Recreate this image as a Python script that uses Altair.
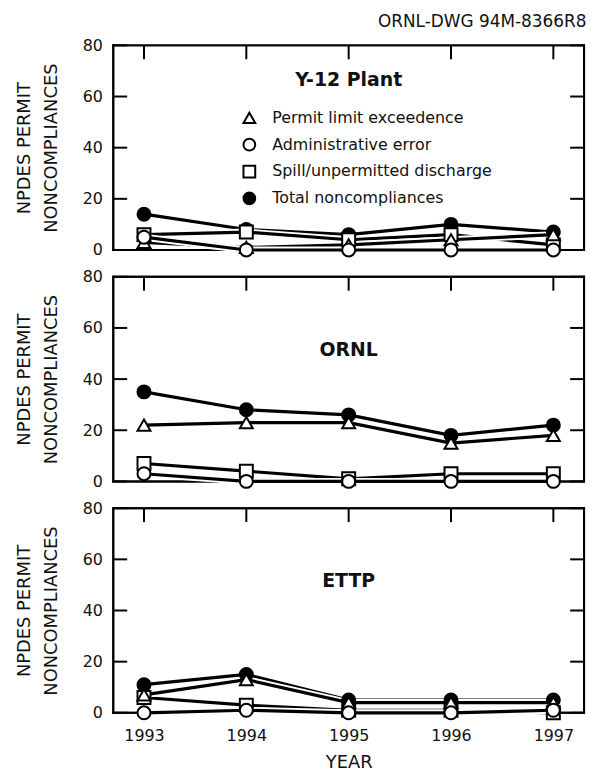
import altair as alt
import pandas as pd

years = [1993, 1994, 1995, 1996, 1997]
sites = ["Y-12 Plant", "ORNL", "ETTP"]
series_names = ["Permit limit exceedence", "Administrative error",
                "Spill/unpermitted discharge", "Total noncompliances"]
y_ticks = [0, 20, 40, 60, 80]

y12_permit = [3, 1, 2, 4, 6]
y12_admin = [5, 0, 0, 0, 0]
y12_spill = [6, 7, 4, 6, 2]
y12_total = [14, 8, 6, 10, 7]

ornl_permit = [22, 23, 23, 15, 18]
ornl_admin = [3, 0, 0, 0, 0]
ornl_spill = [7, 4, 1, 3, 3]
ornl_total = [35, 28, 26, 18, 22]

ettp_permit = [7, 13, 4, 4, 4]
ettp_admin = [0, 1, 0, 0, 1]
ettp_spill = [6, 3, 1, 1, 0]
ettp_total = [11, 15, 5, 5, 5]

site_data = {
    "Y-12 Plant": [y12_permit, y12_admin, y12_spill, y12_total],
    "ORNL": [ornl_permit, ornl_admin, ornl_spill, ornl_total],
    "ETTP": [ettp_permit, ettp_admin, ettp_spill, ettp_total],
}

# drawing order (first drawn at bottom)
draw_order = [series_names[3], series_names[2], series_names[0], series_names[1]]

rows = []
for site in sites:
    for s in draw_order:
        vals = site_data[site][series_names.index(s)]
        for yr, v in zip(years, vals):
            rows.append({"site": site, "series": s, "year": yr, "value": v})
df = pd.DataFrame(rows)
year_df = pd.DataFrame({"year": years})
ytick_df = pd.DataFrame({"tick": y_ticks})

W, H = 474, 206
FONT = "DejaVu Sans"
TXT = "#111111"
TICK = 14

label_y = {"Y-12 Plant": 35, "ORNL": 74, "ETTP": 73}


def panel(site, show_x, show_legend):
    d = df[df["site"] == site]
    xaxis = alt.Axis(values=years, format="d", ticks=False, domain=False, grid=False,
                     labelFontSize=16, labelPadding=15, title="YEAR",
                     titleFontSize=18, titleFontWeight="normal", titlePadding=10) if show_x else None
    yaxis = alt.Axis(values=y_ticks, ticks=False, domain=False, grid=False,
                     labelFontSize=16, labelPadding=11,
                     title=["NPDES PERMIT", "NONCOMPLIANCES"], titleFontSize=18,
                     titleFontWeight="normal", titlePadding=22, titleLineHeight=27)
    xs = alt.Scale(domain=[1992.7, 1997.3], nice=False, zero=False)
    ys = alt.Scale(domain=[0, 80], nice=False)
    X = alt.X("year:Q", scale=xs, axis=xaxis)
    Y = alt.Y("value:Q", scale=ys, axis=yaxis)

    layers = []
    # frame of the plot area
    frame = alt.Chart(year_df.head(1)).mark_rule(color="black", strokeWidth=2, strokeCap="square")
    layers.append(frame.encode(x=alt.value(0), x2=alt.value(W), y=alt.value(0)))
    layers.append(frame.encode(x=alt.value(0), x2=alt.value(W), y=alt.value(H)))
    layers.append(frame.encode(y=alt.value(0), y2=alt.value(H), x=alt.value(0)))
    layers.append(frame.encode(y=alt.value(0), y2=alt.value(H), x=alt.value(W)))
    # inward ticks: top, left, right
    layers.append(alt.Chart(year_df).mark_rule(color="black", strokeWidth=2).encode(
        x=alt.X("year:Q", scale=xs, axis=xaxis), y=alt.value(0), y2=alt.value(TICK)))
    layers.append(alt.Chart(ytick_df).mark_rule(color="black", strokeWidth=2).encode(
        y=alt.Y("tick:Q", scale=ys, axis=yaxis), x=alt.value(0), x2=alt.value(TICK)))
    layers.append(alt.Chart(ytick_df).mark_rule(color="black", strokeWidth=2).encode(
        y=alt.Y("tick:Q", scale=ys, axis=yaxis), x=alt.value(W - TICK), x2=alt.value(W)))

    # site label
    layers.append(alt.Chart(pd.DataFrame({"site": [site]})).mark_text(
        font=FONT, fontSize=19, fontWeight="bold", color=TXT, baseline="middle", align="center"
    ).encode(text="site:N", x=alt.value(W / 2), y=alt.value(label_y[site])))

    base = alt.Chart(d)
    for s in draw_order:
        f = base.transform_filter(alt.datum.series == s)
        layers.append(f.mark_line(color="white", strokeWidth=7).encode(x=X, y=Y))
        layers.append(f.mark_line(color="black", strokeWidth=3.2).encode(x=X, y=Y))

    if show_legend:
        leg = alt.Legend(orient="none", legendX=129, legendY=65, title=None,
                         labelFontSize=16, labelFont=FONT, labelColor=TXT, labelLimit=0,
                         symbolSize=140, symbolStrokeWidth=2,
                         rowPadding=7, labelOffset=15, padding=0)
    else:
        leg = None
    pts = base.mark_point(opacity=1, size=170, strokeWidth=2, filled=False).encode(
        x=X, y=Y,
        shape=alt.Shape("series:N", scale=alt.Scale(domain=series_names,
                        range=["triangle-up", "circle", "square", "circle"]), legend=leg),
        fill=alt.Fill("series:N", scale=alt.Scale(domain=series_names,
                      range=["white", "white", "white", "black"]), legend=leg),
        stroke=alt.Stroke("series:N", scale=alt.Scale(domain=series_names,
                          range=["black", "black", "black", "black"]), legend=leg),
    )
    layers.append(pts)

    return alt.layer(*layers).properties(width=W, height=H)


chart = alt.vconcat(
    panel("Y-12 Plant", False, True),
    panel("ORNL", False, False),
    panel("ETTP", True, False),
    spacing=27,
    bounds="flush",
    title=alt.TitleParams("ORNL-DWG 94M-8366R8", anchor="end", fontSize=17,
                          fontWeight="normal", font=FONT, color=TXT, offset=6),
).resolve_scale(
    shape="independent", fill="independent", stroke="independent"
).properties(
    padding={"left": 6, "top": 2, "right": 5, "bottom": 2}, background="white"
).configure_view(
    stroke="black", strokeWidth=2
).configure_axis(
    labelFont=FONT, titleFont=FONT, labelColor=TXT, titleColor=TXT
)

chart.save("out.html", embed_options={"renderer": "svg", "actions": False})
